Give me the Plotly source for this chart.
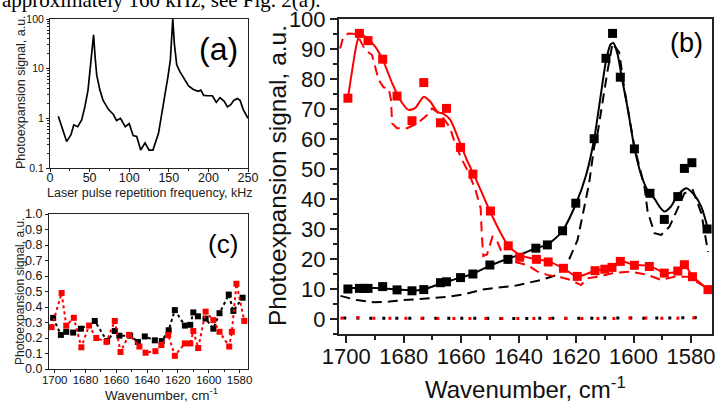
import plotly.graph_objects as go

W, H = 718, 403

# ---------------- panel (a): log signal vs repetition frequency ----------------
freq_khz = [10.5, 21, 26.5, 30, 35, 40, 44, 48, 51, 55, 57, 59, 63, 67, 74, 80, 84, 89, 95,
            100, 105, 109.5, 114.5, 120, 125, 130, 137, 143, 149, 152, 155, 157, 160, 164,
            170, 175, 181, 187, 190.5, 194, 200, 205, 210, 214.6, 220, 224, 228.5, 232,
            236.5, 240, 244, 250]
signal_a = [1.1, 0.34, 0.47, 0.74, 0.68, 0.93, 1.7, 3.7, 11, 48, 17, 7.4, 3.7, 2.3, 1.5, 1.2,
            0.9, 1.0, 0.68, 0.78, 0.45, 0.43, 0.23, 0.32, 0.23, 0.23, 0.5, 1.7, 7, 15, 100,
            32, 12, 8.7, 5.9, 4.5, 3.8, 3.5, 3.7, 2.9, 2.85, 2.85, 2.1, 2.6, 2.2, 1.7, 1.9,
            2.3, 2.5, 2.3, 1.5, 1.0]

# ---------------- panel (c): small signal spectra ----------------
c_black_wn = [1701, 1696, 1692.5, 1688, 1683, 1674, 1666, 1661, 1658, 1651, 1646, 1641.5,
              1635, 1630.5, 1626, 1622, 1615.5, 1612, 1610, 1607, 1602, 1597, 1593, 1587,
              1584, 1578]
c_black_sig = [0.33, 0.22, 0.24, 0.235, 0.26, 0.31, 0.18, 0.245, 0.215, 0.215, 0.175, 0.21,
               0.185, 0.18, 0.25, 0.38, 0.28, 0.285, 0.365, 0.34, 0.325, 0.26, 0.36, 0.48,
               0.375, 0.46]
c_red_wn = [1702, 1695.5, 1692.5, 1687.6, 1682.7, 1677.7, 1673, 1666.4, 1661, 1657.3, 1651.7,
            1645, 1641, 1634.6, 1630.7, 1626.3, 1622, 1615.5, 1612, 1610, 1606.8, 1602, 1597,
            1593, 1586.7, 1585, 1582, 1576.9]
c_red_sig = [0.27, 0.49, 0.28, 0.33, 0.14, 0.28, 0.2, 0.175, 0.31, 0.11, 0.22, 0.145, 0.105,
             0.115, 0.155, 0.22, 0.085, 0.165, 0.165, 0.245, 0.135, 0.37, 0.315, 0.24, 0.145,
             0.24, 0.55, 0.31]

# ---------------- panel (b): main spectra ----------------
b_black_wn = [1699.4, 1695.4, 1693.7, 1692.4, 1687.3, 1682.3, 1677.1, 1673, 1667.2, 1665.1,
              1660.2, 1655.9, 1650, 1643.7, 1634, 1630, 1624.7, 1620.1, 1613.7, 1609.6,
              1607.3, 1604.6, 1599.7, 1594.3, 1589.3, 1584.6, 1582.3, 1579.7, 1574.4]
b_black_sig = [10, 10.2, 10.2, 10.2, 10.8, 9.7, 9.4, 9.8, 12.1, 12.4, 13.8, 15, 18, 19.9,
               23.6, 24.7, 29.4, 38.6, 60.1, 86.9, 95.2, 80.6, 56.7, 41.9, 33.2, 40.8, 50.2,
               52.1, 30]
b_red_wn = [1699.4, 1695.4, 1692.4, 1687.3, 1682.3, 1677.1, 1673, 1667.2, 1665.1, 1660.2,
            1655.9, 1649.8, 1643.6, 1639.6, 1633.8, 1629.7, 1624.4, 1619.6, 1613.4, 1610,
            1607.5, 1604.6, 1599.7, 1594.5, 1589.3, 1584.6, 1582.3, 1579.5, 1574.1]
b_red_sig = [73.6, 95.2, 92.8, 86.6, 74.3, 66.1, 78.8, 65.4, 70.2, 57.2, 48.3, 36, 24.4, 20.6,
             19.9, 19, 16.9, 14.2, 16.1, 16.6, 17.2, 19.2, 17.9, 17.5, 15.3, 16, 18.1, 14.1,
             9.8]

b_black_fit_wn = [1699.4, 1690, 1682, 1676, 1673, 1668, 1663, 1656, 1650, 1644, 1638, 1634,
                  1630, 1625, 1620, 1616.5, 1613.7, 1611.5, 1609.6, 1608, 1607, 1605.5, 1604,
                  1602, 1599.7, 1597, 1594.5, 1592.8, 1591, 1589.2, 1587, 1584.6, 1581.7,
                  1579, 1576.4, 1574.1]
b_black_fit_sig = [10.3, 10.3, 9.8, 9.5, 9.8, 11.5, 13, 15, 17.8, 20, 22, 23.6, 24.8, 29,
                   38.5, 48, 60, 74, 86, 91.5, 92, 88, 80, 70, 57, 47, 41.9, 40.2, 37.5, 35.8,
                   37.5, 41.3, 43.6, 41.5, 37.4, 30]
b_black_dash_wn = [1702, 1696.3, 1690.5, 1685, 1680, 1675.3, 1670.7, 1664.9, 1659, 1653.2,
                   1648, 1641.6, 1632.3, 1626.5, 1623, 1619.5, 1617.2, 1615.5, 1613.7, 1612.5,
                   1609, 1607.3, 1605, 1603.2, 1599.7, 1596.2, 1595.1, 1592.7, 1590.4, 1587.5,
                   1584.6, 1582.3, 1579.4, 1576.4, 1574.1]
b_black_dash_sig = [7.7, 6.3, 5.6, 5.8, 6.3, 6.5, 6.9, 7.4, 8.2, 9.7, 10.4, 11, 13, 14.7,
                    18.6, 26.3, 37.4, 45, 57.4, 62, 83, 91.9, 88.9, 76.7, 57.4, 44.1, 35.8,
                    28.6, 28, 30.8, 36.9, 41.9, 43, 35.2, 22.4]
b_red_fit_wn = [1699.4, 1696.3, 1695.1, 1692.8, 1689.9, 1687, 1684, 1681.2, 1678.3, 1676,
                1673, 1670.7, 1668.3, 1666, 1663.7, 1660.8, 1658, 1655, 1650, 1646.2, 1643.6,
                1639.6, 1634, 1630, 1624.4, 1619.7, 1613.4, 1610.4, 1607.5, 1604.6, 1599.7,
                1594.5, 1589.2, 1584.6, 1582.3, 1579.3, 1574.1]
b_red_fit_sig = [73.6, 91.9, 95.2, 93.6, 90.8, 85.8, 78.6, 73, 69.7, 70.3, 74.1, 72.4, 69.1,
                 68.3, 66.3, 59.7, 53, 46.9, 36, 28.6, 24.4, 21.3, 19.9, 19.3, 16.9, 14.1,
                 16.1, 16.6, 17.2, 19.3, 18, 17.7, 15.4, 15.8, 18, 14.1, 9.9]
b_red_dash_wn = [1702.1, 1701, 1699.2, 1696.3, 1695.1, 1693.4, 1691, 1688.7, 1687, 1685.2,
                 1684.4, 1684, 1682.3, 1678.8, 1675.3, 1671.8, 1670.1, 1667, 1664, 1662.5,
                 1660.2, 1657.3, 1655, 1653.2, 1652.8, 1652.3, 1651, 1649.1, 1647.5, 1646.2,
                 1643.9, 1641.6, 1637, 1633.4, 1630, 1625.3, 1621.8, 1618.3, 1616, 1611.3,
                 1606.7, 1600.9, 1595.1, 1590.4, 1585.8, 1581.1, 1577.6, 1574.1]
b_red_dash_sig = [90.2, 94.1, 95.2, 95, 92.8, 89.7, 88, 79.7, 77.2, 76.9, 73, 65.2, 63.6,
                  63.6, 65.2, 68, 70.2, 68, 64, 59.7, 54.1, 48.6, 43, 36.9, 28, 21, 21.5, 27.4,
                  26, 23, 18.6, 19.1, 18, 15.8, 14.7, 13.9, 13, 11.3, 13.6, 14.3, 15.4, 15.8,
                  14.7, 13, 14.1, 14.1, 12.1, 10.2]

# ---------------- ticks ----------------
a_xticks = [0, 50, 100, 150, 200, 250]
a_yticks = [0.1, 1, 10, 100]
a_yticklabels = ["0.1", "1", "10", "100"]
a_yminor = [0.2, 0.3, 0.4, 0.5, 0.6, 0.7, 0.8, 0.9, 2, 3, 4, 5, 6, 7, 8, 9,
            20, 30, 40, 50, 60, 70, 80, 90]
wn_ticks = [1700, 1680, 1660, 1640, 1620, 1600, 1580]
b_yticks = [0, 10, 20, 30, 40, 50, 60, 70, 80, 90, 100]
c_yticks = [0.0, 0.1, 0.2, 0.3, 0.4, 0.5, 0.6, 0.7, 0.8, 0.9, 1.0]

RED = "#ff0000"
BLK = "#000000"
FONT = "Arial, Liberation Sans, sans-serif"


def dom_x(x0, x1):
    return [x0 / W, x1 / W]


def dom_y(top, bottom):
    return [1 - bottom / H, 1 - top / H]


fig = go.Figure()

# panel (a)
fig.add_trace(go.Scatter(x=freq_khz, y=signal_a, mode="lines",
                         line=dict(color=BLK, width=1.7), xaxis="x", yaxis="y"))

# panel (c)
fig.add_trace(go.Scatter(x=c_black_wn, y=c_black_sig, mode="lines+markers",
                         line=dict(color=BLK, width=2, dash="dot"),
                         marker=dict(symbol="square", size=6, color=BLK),
                         xaxis="x2", yaxis="y2"))
fig.add_trace(go.Scatter(x=c_red_wn, y=c_red_sig, mode="lines+markers",
                         line=dict(color=RED, width=2, dash="dot"),
                         marker=dict(symbol="square", size=6, color=RED),
                         xaxis="x2", yaxis="y2"))

# panel (b)
fig.add_trace(go.Scatter(x=c_black_wn, y=c_black_sig, mode="lines",
                         line=dict(color=BLK, width=3, dash="3px,10px"),
                         xaxis="x3", yaxis="y3"))
fig.add_trace(go.Scatter(x=c_red_wn, y=c_red_sig, mode="lines",
                         line=dict(color=RED, width=3, dash="3px,13px"),
                         xaxis="x3", yaxis="y3"))
fig.add_trace(go.Scatter(x=b_black_dash_wn, y=b_black_dash_sig, mode="lines",
                         line=dict(color=BLK, width=2, dash="10px,6px"),
                         xaxis="x3", yaxis="y3"))
fig.add_trace(go.Scatter(x=b_red_dash_wn, y=b_red_dash_sig, mode="lines",
                         line=dict(color=RED, width=2, dash="10px,6px"),
                         xaxis="x3", yaxis="y3"))
fig.add_trace(go.Scatter(x=b_red_fit_wn, y=b_red_fit_sig, mode="lines",
                         line=dict(color=RED, width=2, shape="spline", smoothing=0.6),
                         xaxis="x3", yaxis="y3"))
fig.add_trace(go.Scatter(x=b_black_fit_wn, y=b_black_fit_sig, mode="lines",
                         line=dict(color=BLK, width=2, shape="spline", smoothing=0.6),
                         xaxis="x3", yaxis="y3"))
fig.add_trace(go.Scatter(x=b_red_wn, y=b_red_sig, mode="markers",
                         marker=dict(symbol="square", size=9, color=RED),
                         xaxis="x3", yaxis="y3"))
fig.add_trace(go.Scatter(x=b_black_wn, y=b_black_sig, mode="markers",
                         marker=dict(symbol="square", size=9, color=BLK),
                         xaxis="x3", yaxis="y3"))

axis_common = dict(showgrid=False, zeroline=False, showline=True, mirror=True,
                   ticks="outside", tickcolor="#222", linecolor="#222", automargin=False)

fig.update_layout(
    width=W, height=H, margin=dict(l=0, r=0, t=0, b=0, pad=0), autosize=False,
    paper_bgcolor="white", plot_bgcolor="white", showlegend=False,
    font=dict(family=FONT, color="#111"),
    xaxis=dict(**axis_common, domain=dom_x(50, 248), anchor="y", range=[0, 250],
               tickmode="array", tickvals=a_xticks, ticklen=3, linewidth=1,
               tickangle=0, tickfont=dict(size=12.5), ticklabelstandoff=-5,
               minor=dict(ticks="outside", dtick=25, ticklen=2, tickcolor="#222")),
    yaxis=dict(**axis_common, domain=dom_y(19, 168), anchor="x", type="log", range=[-1, 2],
               tickmode="array", tickvals=a_yticks, ticktext=a_yticklabels, ticklen=3,
               linewidth=1, tickfont=dict(size=10.5),
               minor=dict(ticks="outside", tickmode="array", tickvals=a_yminor, ticklen=2,
                          tickcolor="#222")),
    xaxis2=dict(**axis_common, domain=dom_x(49, 248), anchor="y2", range=[1703.7, 1574.5],
                tickmode="array", tickvals=wn_ticks, ticklen=3, linewidth=1,
                tickangle=0, tickfont=dict(size=11.5), ticklabelstandoff=-3,
                minor=dict(ticks="outside", dtick=10, ticklen=2, tickcolor="#222")),
    yaxis2=dict(**axis_common, domain=dom_y(214, 369), anchor="x2", range=[0, 1.0],
                tickmode="array", tickvals=c_yticks, tickformat=".1f", ticklen=3,
                linewidth=1, tickfont=dict(size=12.5)),
    xaxis3=dict(**axis_common, domain=dom_x(339, 712), anchor="y3", range=[1702.5, 1572.7],
                tickmode="array", tickvals=wn_ticks, ticklen=7, linewidth=2,
                tickangle=0, tickwidth=1.5, tickfont=dict(size=22), ticklabelstandoff=-5,
                minor=dict(ticks="outside", dtick=10, ticklen=4, tickcolor="#222")),
    yaxis3=dict(**axis_common, domain=dom_y(19, 334), anchor="x3", range=[-5, 100],
                tickmode="array", tickvals=b_yticks, ticklen=7, linewidth=2,
                tickwidth=1.5, tickfont=dict(size=22),
                minor=dict(ticks="outside", dtick=5, ticklen=4, tickcolor="#222")),
)

annos = [
    # fragment of the caption text above the figure
    dict(text="approximately 160 kHz, see Fig. 2(a).", x=0, y=1 - 14 / H, xanchor="left",
         yanchor="bottom", font=dict(family="Liberation Serif, Times New Roman, serif",
                                     size=21, color="#000")),
    # panel labels
    dict(text="(a)", x=218 / W, y=1 - 49 / H, xanchor="center", yanchor="middle",
         font=dict(size=32, color="#000")),
    dict(text="(b)", x=686 / W, y=1 - 43 / H, xanchor="center", yanchor="middle",
         font=dict(size=27, color="#000")),
    dict(text="(c)", x=223 / W, y=1 - 244 / H, xanchor="center", yanchor="middle",
         font=dict(size=26, color="#000")),
    # axis titles
    dict(text="Laser pulse repetition frequency, kHz", x=149 / W, y=1 - 193 / H,
         xanchor="center", yanchor="middle", font=dict(size=12.5, color="#222")),
    dict(text="Photoexpansion signal, a.u.", x=21 / W, y=1 - 92 / H, textangle=-90,
         xanchor="center", yanchor="middle", font=dict(size=12.5, color="#222")),
    dict(text="Wavenumber, cm<sup>-1</sup>", x=161 / W, y=1 - 394 / H,
         xanchor="center", yanchor="middle", font=dict(size=13.5, color="#222")),
    dict(text="Photoexpansion signal, a.u.", x=20 / W, y=1 - 292 / H, textangle=-90,
         xanchor="center", yanchor="middle", font=dict(size=12, color="#222")),
    dict(text="Wavenumber, cm<sup>-1</sup>", x=525 / W, y=1 - 388 / H,
         xanchor="center", yanchor="middle", font=dict(size=24, color="#111")),
    dict(text="Photoexpansion signal, a.u.", x=277 / W, y=1 - 176 / H, textangle=-90,
         xanchor="center", yanchor="middle", font=dict(size=24.5, color="#111")),
]
for a in annos:
    a.setdefault("xref", "paper")
    a.setdefault("yref", "paper")
    a.setdefault("showarrow", False)
fig.update_layout(annotations=annos)

fig.write_html("out.html", post_script="document.body.style.margin='0px';")
